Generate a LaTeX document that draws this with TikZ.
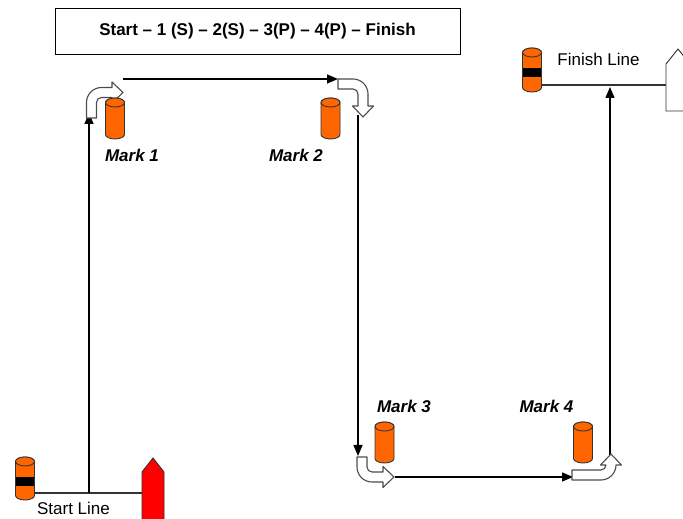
\documentclass[tikz,border=0pt]{standalone}
\usepackage{fontspec}
\setmainfont{Liberation Sans}
\usetikzlibrary{arrows.meta}
\definecolor{buoyorange}{HTML}{FF6600}
\definecolor{boatred}{HTML}{FF0000}
\tikzset{
  course/.style={draw=black, line width=1.4pt, -{Triangle[length=11pt,width=9pt]}},
  plainline/.style={draw=black!80, line width=1.4pt},
  hollow/.style={draw=black!70, fill=white, line width=1.1pt, line join=round},
  marklabel/.style={font=\fontsize{17}{20}\selectfont\bfseries\itshape, inner sep=0pt},
  linelabel/.style={font=\fontsize{17}{20}\selectfont, inner sep=0pt},
  titlebox/.style={draw=black, line width=0.9pt, minimum width=405pt, minimum height=46pt, inner sep=0pt, font=\fontsize{17}{20}\selectfont\bfseries},
  buoybody/.style={fill=buoyorange, draw=black!80, line width=0.9pt},
  boatshape/.style={draw=black!80, line width=0.9pt, line join=miter},
}
% buoy: name, x, Ytop, Ybot
\newcommand{\buoy}[4]{%
  \path[buoybody] (#2-9.5,#3-4.5) -- (#2-9.5,#4+4.5)
     arc[start angle=180,end angle=360,x radius=9.5,y radius=4.5]
     -- (#2+9.5,#3-4.5) arc[start angle=0,end angle=180,x radius=9.5,y radius=4.5] -- cycle;
  \path[buoybody] (#2,#3-4.5) ellipse[x radius=9.5,y radius=4.5];
  \coordinate (#1) at (#2,{(#3+#4)/2});
}
% banded buoy: name, x, Ytop, Ybot, bandtop, bandbot
\newcommand{\bandbuoy}[6]{%
  \fill[buoyorange] (#2-9.5,#3-4.5) -- (#2-9.5,#4+4.5)
     arc[start angle=180,end angle=360,x radius=9.5,y radius=4.5]
     -- (#2+9.5,#3-4.5) arc[start angle=0,end angle=180,x radius=9.5,y radius=4.5] -- cycle;
  \fill[black] (#2-9.5,#5) rectangle (#2+9.5,#6);
  \draw[draw=black!80, line width=0.9pt] (#2-9.5,#3-4.5) -- (#2-9.5,#4+4.5)
     arc[start angle=180,end angle=360,x radius=9.5,y radius=4.5]
     -- (#2+9.5,#3-4.5) arc[start angle=0,end angle=180,x radius=9.5,y radius=4.5] -- cycle;
  \path[buoybody] (#2,#3-4.5) ellipse[x radius=9.5,y radius=4.5];
  \coordinate (#1) at (#2,{(#3+#4)/2});
}
% bent hollow arrow: transform, name, a, b
\newcommand{\bentarrow}[4]{%
  \begin{scope}[#1]
    \path[hollow] (-5,0) -- (-5,#3) arc[start angle=180,end angle=90,radius=15]
      -- (#4,#3+15) -- (#4,#3+20.5) -- (#4+11,#3+10) -- (#4,#3-0.5) -- (#4,#3+5)
      -- (10,#3+5) arc[start angle=90,end angle=180,radius=5] -- (5,0) -- cycle;
    \coordinate (#2-start) at (0,0);
    \coordinate (#2-tip) at (#4+11,#3+10);
  \end{scope}}

\begin{document}
\begin{tikzpicture}[x=1pt,y=1pt]
  \useasboundingbox (0,0) rectangle (683,519);
  \clip (0,0) rectangle (683,519);

  % title
  \node[titlebox] (title) at (257.5,488) {Start -- 1 (S) -- 2(S) -- 3(P) -- 4(P) -- Finish};

  % endpoint coordinates
  \coordinate (slL) at (34,26);
  \coordinate (slR) at (142,26);
  \coordinate (leg1a) at (89,26);
  \coordinate (leg1b) at (89,406);
  \coordinate (leg2a) at (123,440);
  \coordinate (leg2b) at (338,440);
  \coordinate (leg3a) at (358,404);
  \coordinate (leg3b) at (358,63);
  \coordinate (leg4a) at (395,42);
  \coordinate (leg4b) at (573,42);
  \coordinate (leg5a) at (610,64);
  \coordinate (leg5b) at (610,432);
  \coordinate (flL) at (541,434);
  \coordinate (flR) at (666,434);

  % start and finish lines
  \draw[plainline] (slL) -- (slR);
  \draw[plainline] (flL) -- (flR);

  % course legs
  \draw[course] (leg1a) -- (leg1b);
  \draw[course] (leg2a) -- (leg2b);
  \draw[course] (leg3a) -- (leg3b);
  \draw[course] (leg4a) -- (leg4b);
  \draw[course] (leg5a) -- (leg5b);

  % rounding arrows
  \bentarrow{shift={(91.5,401)}}{turn1}{15.5}{20.5}
  \bentarrow{shift={(338,435)},rotate=-90}{turn2}{15}{22}
  \bentarrow{shift={(362,62)},yscale=-1}{turn3}{10}{21}
  \bentarrow{shift={(572,44)},rotate=-90,xscale=-1}{turn4}{29}{10}

  % boats
  \path[boatshape, fill=boatred] (142,-5) -- (142,47) -- (153,61) -- (164,47) -- (164,-5) -- cycle;
  \coordinate (startboat) at (153,30);
  \path[boatshape, fill=white] (690,408) -- (666,408) -- (666,455) -- (678,470) -- (690,455) -- cycle;
  \coordinate (finishboat) at (675,430);

  % buoys
  \buoy{mark1}{115}{421}{380}
  \buoy{mark2}{330.5}{421}{380}
  \buoy{mark3}{384.5}{97}{56}
  \buoy{mark4}{583}{97}{56}
  \bandbuoy{finishbuoy}{532}{471}{427}{451}{442}
  \bandbuoy{startbuoy}{25}{62}{19}{42}{33}

  % labels
  \node[marklabel] (lab1) at (132,364) {Mark 1};
  \node[marklabel] (lab2) at (296,364) {Mark 2};
  \node[marklabel] (lab3) at (404,113) {Mark 3};
  \node[marklabel] (lab4) at (546.5,113) {Mark 4};
  \node[linelabel] (finlab) at (598.5,460) {Finish Line};
  \node[linelabel, anchor=base] (startlab) at (73.5,4.5) {Start Line};
\end{tikzpicture}
\end{document}
